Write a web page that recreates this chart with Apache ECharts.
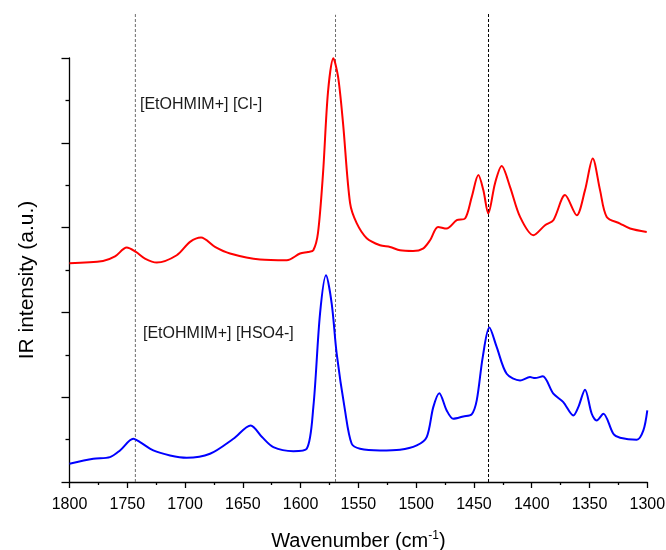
<!DOCTYPE html>
<html>
<head>
<meta charset="utf-8">
<script src="https://cdn.jsdelivr.net/npm/echarts@6/dist/echarts.min.js"></script>
<style>html,body{margin:0;padding:0;background:#fff}#c{width:666px;height:550px}</style>
</head>
<body>
<div id="c"></div>
<script>
// Wavenumbers (cm-1) and intensities (a.u.)
const clWave = [1800,1771,1760.6,1750.5,1742.5,1734.7,1724.5,1707.2,1695.7,1686.2,1674.1,1661.1,1635.1,1612,1600.5,1593.6,1589,1585,1580.6,1576.3,1571.7,1567.6,1563.3,1557.2,1551.5,1542.8,1531.3,1522.6,1514,1502.7,1494.1,1488,1481.1,1473.6,1464.9,1457.7,1451.9,1446.2,1441.9,1437.6,1431.8,1426,1418.8,1410.1,1398.6,1388.5,1381.3,1371.2,1361.1,1353.9,1347.2,1340.9,1335.1,1323.6,1314.9,1300.5];
const clInt  = [2.58,2.607,2.66,2.765,2.713,2.635,2.588,2.674,2.831,2.883,2.772,2.694,2.623,2.615,2.694,2.713,2.733,2.934,3.642,4.6,4.996,4.78,4.233,3.288,3.052,2.875,2.792,2.772,2.733,2.725,2.753,2.851,3.008,2.989,3.087,3.107,3.362,3.619,3.442,3.167,3.521,3.725,3.481,3.126,2.91,3.028,3.087,3.383,3.146,3.442,3.816,3.442,3.126,3.048,2.989,2.949];

const hsWave = [1800,1779.4,1765,1756.3,1744.8,1739,1727.5,1713,1698.6,1678.4,1658.2,1643.2,1633.4,1623.6,1606.3,1594.7,1589,1583.2,1578,1573.1,1568.8,1561.6,1555.8,1548.6,1531.3,1514,1499.5,1490.9,1485.2,1480,1473.6,1467.9,1459.2,1452,1447.6,1442.4,1436.7,1430.3,1421.7,1410.1,1401.5,1397.2,1390.5,1381.3,1372.7,1364,1359.7,1353.9,1348.1,1343.8,1338,1329.4,1323.6,1309.1,1303.4,1300];
const hsInt  = [0.215,0.274,0.293,0.372,0.51,0.47,0.372,0.313,0.286,0.333,0.51,0.667,0.53,0.411,0.364,0.392,0.883,1.986,2.438,2.104,1.514,0.844,0.451,0.392,0.372,0.38,0.431,0.529,0.883,1.048,0.844,0.746,0.773,0.797,0.962,1.473,1.821,1.591,1.277,1.198,1.237,1.225,1.246,1.041,0.942,0.785,0.883,1.089,0.805,0.726,0.805,0.569,0.522,0.498,0.608,0.844];

// Reference vertical lines (cm-1)
const refLines = [1743, 1569.8, 1437.4];
const refTop   = [5.54, 5.51, 5.54];
const refColors = ['#6e6e6e', '#6e6e6e', '#000000'];

const xTicks = [1800,1750,1700,1650,1600,1550,1500,1450,1400,1350,1300];
const labels = ['[EtOHMIM+] [Cl-]', '[EtOHMIM+] [HSO4-]'];

const FONT = 'Liberation Sans, Arial, sans-serif';
const chart = echarts.init(document.getElementById('c'), null, {renderer:'canvas'});

const zip = (a,b) => a.map((v,i)=>[v,b[i]]);

const series = [
  {type:'line', data: zip(clWave, clInt), showSymbol:false, smooth:0.3,
   lineStyle:{color:'#ff0000', width:2}, z:5},
  {type:'line', data: zip(hsWave, hsInt), showSymbol:false, smooth:0.3,
   lineStyle:{color:'#0000ff', width:2}, z:5}
];
refLines.forEach((w,i)=>{
  series.push({type:'line', data:[[w,0],[w,refTop[i]]], showSymbol:false, clip:false,
    lineStyle:{color:refColors[i], width:1, type:[3,2]}, z:3, silent:true});
});

chart.setOption({
  animation:false,
  backgroundColor:'#ffffff',
  grid:{left:69.5, right:18.7, top:58, bottom:68, containLabel:false, outerBoundsMode:'none'},
  xAxis:{
    type:'value', min:1300, max:1800, interval:50, inverse:true,
    name:'Wavenumber (cm{sup|-1})', nameLocation:'middle', nameGap:48,
    nameTextStyle:{fontFamily:FONT, fontSize:20, color:'#000',
      rich:{sup:{fontFamily:FONT, fontSize:12, color:'#000', verticalAlign:'top', padding:[0,0,10,0]}}},
    axisLine:{onZero:false, lineStyle:{color:'#000', width:1.3}},
    axisTick:{show:true, length:6, lineStyle:{color:'#000', width:1.3}},
    minorTick:{show:true, splitNumber:2, length:3, lineStyle:{color:'#000', width:1.3}},
    axisLabel:{fontFamily:FONT, fontSize:16, color:'#000', margin:15,
      formatter:(v)=> xTicks.indexOf(v)>=0 ? String(v) : ''},
    splitLine:{show:false}
  },
  yAxis:{
    type:'value', min:0, max:5, interval:1,
    name:'IR intensity (a.u.)', nameLocation:'middle', nameGap:32,
    nameTextStyle:{fontFamily:FONT, fontSize:21, color:'#000', padding:[0,20,0,0]},
    axisLine:{show:true, lineStyle:{color:'#000', width:1.3}},
    axisTick:{show:true, length:8, lineStyle:{color:'#000', width:1.3}},
    minorTick:{show:true, splitNumber:2, length:4, lineStyle:{color:'#000', width:1.3}},
    axisLabel:{show:false},
    splitLine:{show:false}
  },
  graphic:[
    {type:'text', left:140, top:97, style:{text:labels[0], font:'16px '+FONT, fill:'#1a1a1a'}},
    {type:'text', left:143, top:326, style:{text:labels[1], font:'16px '+FONT, fill:'#1a1a1a'}}
  ],
  series: series
});
</script>
</body>
</html>
